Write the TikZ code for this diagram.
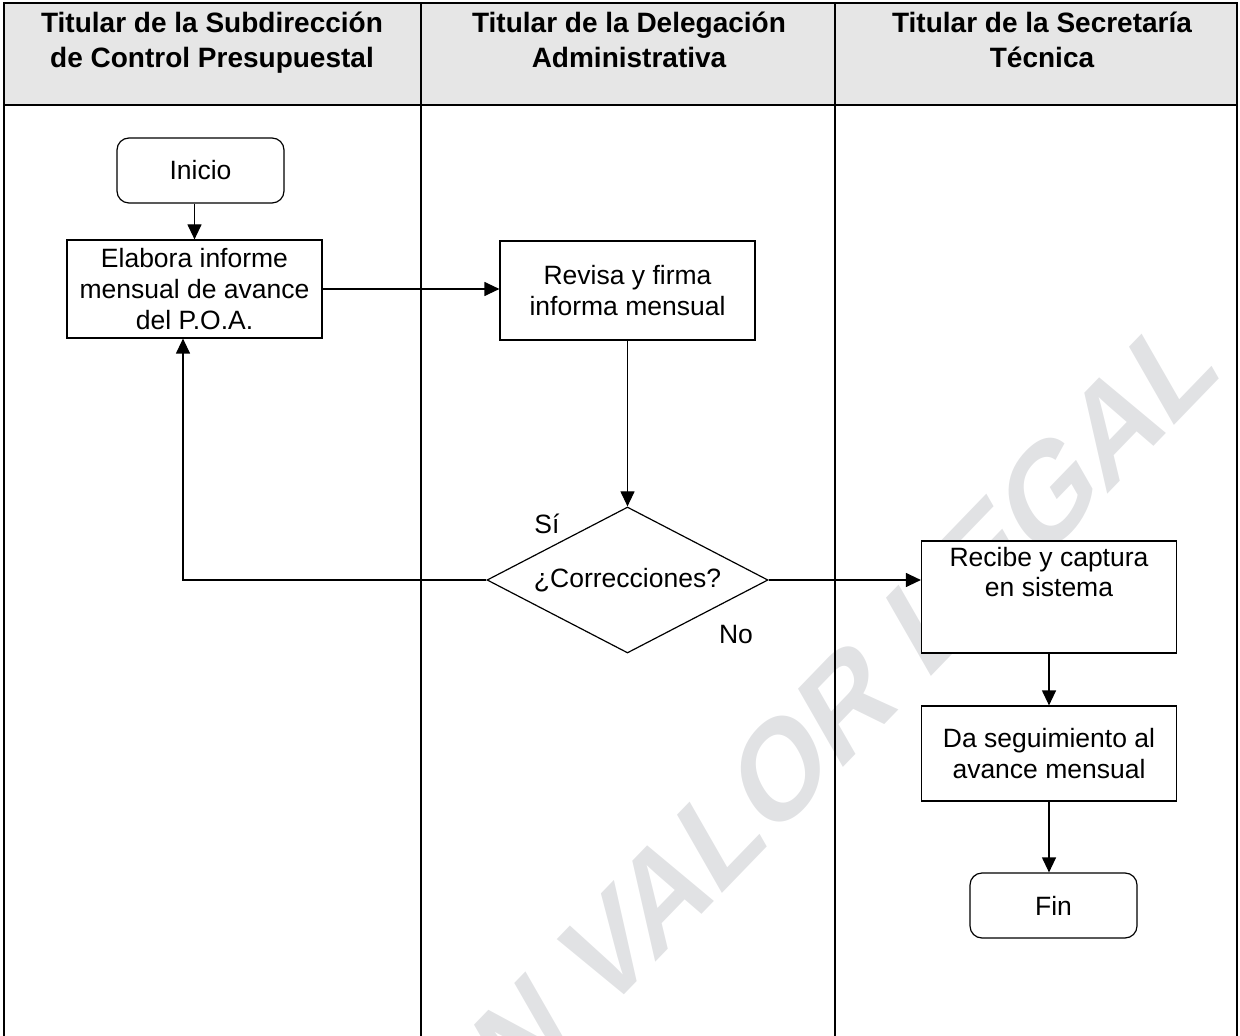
\documentclass[tikz,border=0pt]{standalone}
\usepackage{fontspec}
\setmainfont{Liberation Sans}
\usetikzlibrary{arrows.meta,positioning,shapes.geometric}

\definecolor{cabecera}{RGB}{230,230,230}
\definecolor{marcagris}{RGB}{225,226,228}

\tikzset{
  caja/.style={draw, fill=white, line width=0.6pt, inner sep=0pt, align=center,
    minimum width=127.5pt, font=\fontsize{13.25}{15.3}\selectfont},
  terminal/.style={caja, rounded corners=6pt, minimum width=83.5pt, minimum height=32.5pt},
  decision/.style={caja, diamond, minimum width=140.5pt, minimum height=73pt, aspect=1.92},
  texto/.style={inner sep=0pt, align=center, font=\fontsize{13.25}{15.3}\selectfont},
  titulo/.style={inner sep=0pt, align=center, font=\fontsize{14}{17.5}\selectfont\bfseries},
  flecha/.style={-{Triangle[length=7.5pt,width=7pt]}, line width=0.6pt},
  marco/.style={line width=1.2pt}
}

\begin{document}
\begin{tikzpicture}[x=0.5pt,y=0.5pt]
  \useasboundingbox (0,0) rectangle (1240,-1036);
  \clip (0,0) rectangle (1240,-1036);

  % Cabecera
  \fill[cabecera] (4,-3) rectangle (1237,-105);

  % Marca de agua
  \node (marca) [rotate=46, xslant=0.29, text=marcagris, inner sep=0pt,
    font=\fontsize{63}{63}\selectfont\bfseries] at (804,-746) {SIN VALOR LEGAL};

  % Columnas
  \draw[marco] (4,-1036) -- (4,-3) -- (1237,-3) -- (1237,-1036);
  \draw[marco] (4,-105) -- (1237,-105);
  \draw[marco] (421,-3) -- (421,-1036);
  \draw[marco] (835,-3) -- (835,-1036);

  \node (col1) [titulo] at (212,-43) {Titular de la Subdirección\\de Control Presupuestal};
  \node (col2) [titulo] at (629,-43) {Titular de la Delegación\\Administrativa\vphantom{p}};
  \node (col3) [titulo] at (1042,-43) {Titular de la Secretaría\\Técnica\vphantom{p}};

  % Nodos
  \node (inicio) [terminal] at (200.5,-170.5) {Inicio};
  \node (elabora) [caja, minimum height=49pt] at (194.5,-289) {Elabora informe\\mensual de avance\\del P.O.A.};
  \node (revisa) [caja, minimum height=49.5pt] at (627.5,-290.5) {Revisa y firma\\informa mensual};
  \node (correcciones) [decision] at (627.5,-580) {¿Correcciones?};
  \node (si) [texto] at (547,-524) {Sí};
  \node (no) [texto] at (736,-635) {No};
  \node (recibe) [caja, minimum height=56pt] at (1049,-597) {};
  \node (recibetxt) [texto] at (1049,-572) {Recibe y captura\\en sistema};
  \node (seguimiento) [caja, minimum height=47.5pt] at (1049,-753.5) {Da seguimiento al\\avance mensual};
  \node (fin) [terminal] at (1053.5,-905.5) {Fin};

  % Flechas
  \coordinate (retorno) at (183,-580);
  \draw[flecha] (inicio.south -| elabora.north) -- (elabora.north);
  \draw[flecha] (elabora.east) -- (elabora.east -| revisa.west);
  \draw[flecha] (revisa) -- (correcciones);
  \draw[flecha] (correcciones.west) -- (retorno) -- (retorno |- elabora.south);
  \draw[flecha] (correcciones.east) -- (correcciones.east -| recibe.west);
  \draw[flecha] (recibe) -- (seguimiento);
  \draw[flecha] (seguimiento.south) -- (seguimiento.south |- fin.north);
\end{tikzpicture}
\end{document}
